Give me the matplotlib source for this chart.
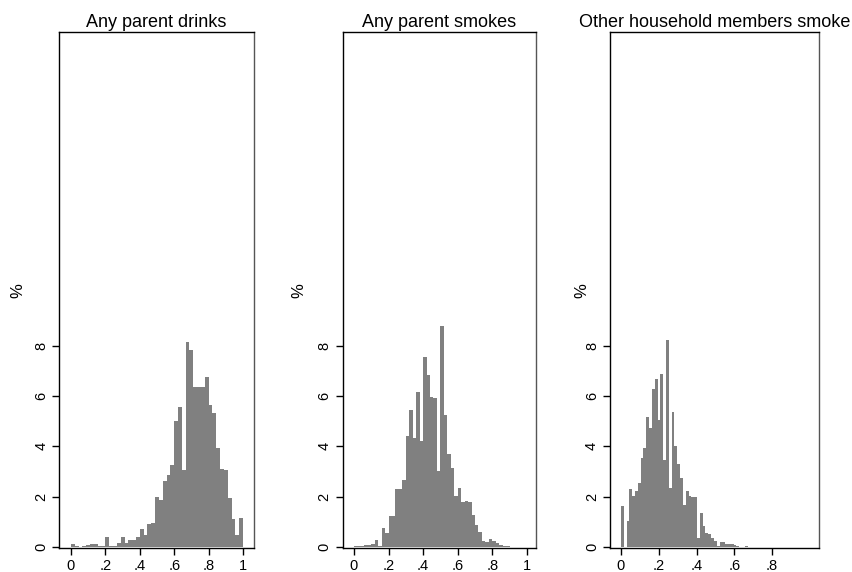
import matplotlib
matplotlib.use("Agg")
import matplotlib.pyplot as plt
import numpy as np

plt.rcParams['font.family'] = ['Liberation Sans', 'DejaVu Sans']

# titles of the three panels
titles = ['Any parent drinks', 'Any parent smokes', 'Other household members smoke']

# bin widths of each histogram (bins start at 0)
bin_w1 = 1 / 45
bin_w2 = 0.02
bin_w3 = 0.0149

# percent in each bin
pct_drinks = [0.1, 0.03, 0.0, 0.03, 0.05, 0.1, 0.1, 0.03, 0.03, 0.4,
              0.03, 0.03, 0.16, 0.4, 0.16, 0.26, 0.26, 0.4, 0.69, 0.46,
              0.89, 0.93, 2.0, 1.85, 2.6, 2.87, 3.27, 5.03, 5.56, 3.07,
              8.16, 7.84, 6.38, 6.38, 6.38, 6.78, 5.66, 5.32, 3.93, 3.1,
              3.07, 1.95, 1.09, 0.45, 1.15]

pct_smokes = [0.03, 0.03, 0.03, 0.05, 0.05, 0.1, 0.25, 0.03, 0.75, 0.55,
              1.22, 1.22, 2.32, 2.3, 2.67, 4.4, 5.44, 4.34, 6.15, 4.2,
              7.55, 6.85, 5.97, 5.93, 3.02, 8.79, 5.23, 3.68, 3.12, 2.03,
              2.36, 1.77, 1.83, 1.8, 1.27, 0.85, 0.6, 0.21, 0.18, 0.32,
              0.21, 0.15, 0.08, 0.03, 0.03]

pct_others = [1.62, 0.0, 1.04, 2.32, 2.03, 2.23, 2.56, 3.53, 3.93, 5.18,
              4.74, 6.27, 6.68, 5.05, 6.87, 3.47, 8.22, 2.34, 5.38, 4.02,
              3.29, 2.72, 1.66, 2.23, 2.03, 2.0, 2.0, 0.36, 1.35, 0.84,
              0.55, 0.5, 0.33, 0.21, 0.03, 0.2, 0.18, 0.1, 0.1, 0.12,
              0.06, 0.02, 0.0, 0.0, 0.02]

xticks_12 = [0, 0.2, 0.4, 0.6, 0.8, 1]
xlabels_12 = ['0', '.2', '.4', '.6', '.8', '1']
xticks_3 = [0, 0.2, 0.4, 0.6, 0.8]
xlabels_3 = ['0', '.2', '.4', '.6', '.8']
yticks = [0, 2, 4, 6, 8]
ylabels = ['0', '2', '4', '6', '8']

fig = plt.figure(figsize=(8.53, 5.72), dpi=100)

W, H = 853, 572
boxes = [(59.3, 254.0), (342.7, 536.0), (610.0, 819.0)]   # pixel left/right
top_px, bot_px = 32.3, 548.0
xlims = [(-0.068, 1.064), (-0.065, 1.053), (-0.058, 1.048)]
label_x = [25, 306, 589]

panels = [(pct_drinks, bin_w1, xticks_12, xlabels_12),
          (pct_smokes, bin_w2, xticks_12, xlabels_12),
          (pct_others, bin_w3, xticks_3, xlabels_3)]

for k, (vals, w, xt, xl) in enumerate(panels):
    l, r = boxes[k]
    ax = fig.add_axes([l / W, 1 - bot_px / H, (r - l) / W, (bot_px - top_px) / H])
    edges = np.arange(len(vals)) * w
    ax.bar(edges, vals, width=w, align='edge', color='#808080',
           edgecolor='none', linewidth=0)
    ax.set_xlim(*xlims[k])
    ax.set_ylim(-0.05, 20.5)
    ax.set_xticks(xt)
    ax.set_xticklabels(xl)
    ax.set_yticks(yticks)
    ax.set_yticklabels(ylabels, rotation=90, va='center')
    ax.tick_params(axis='both', direction='out', length=5, width=1,
                   labelsize=10.5, pad=3)
    for s in ax.spines.values():
        s.set_linewidth(1)
        s.set_color('black')
    ax.spines['right'].set_color('#555555')
    ax.set_title(titles[k], fontsize=13, pad=4)
    ax.set_ylabel('%', fontsize=12)
    ax.yaxis.set_label_coords((label_x[k] - l) / (r - l), 0.5)

fig.savefig('out.png', dpi=100)
